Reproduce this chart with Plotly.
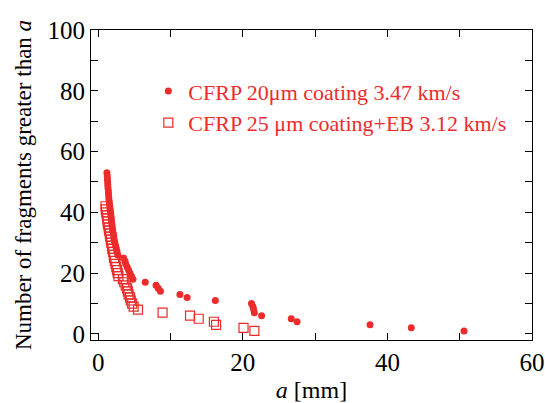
import plotly.graph_objects as go

# Series 1: CFRP 20um coating 3.47 km/s (filled circles), cumulative counts
a_circ = [50.6, 43.3, 37.6, 27.5, 26.7, 22.6, 21.6, 21.5, 21.4, 21.2,
          16.2, 12.3, 11.3, 8.6, 8.3, 8.0, 6.5, 4.8, 4.6, 4.4,
          4.2, 4.0, 3.8, 3.7, 3.5, 2.7, 2.6, 2.5, 2.4, 2.3,
          2.2, 2.15, 2.1, 2.0, 1.95, 1.9, 1.85, 1.8, 1.75, 1.7,
          1.65, 1.6, 1.55, 1.5, 1.45, 1.42, 1.4, 1.35, 1.32, 1.3,
          1.27, 1.25, 1.2]
n_circ = list(range(1, len(a_circ) + 1))

# Series 2: CFRP 25 um coating+EB 3.12 km/s (open squares)
a_sq = [21.6, 20.1, 16.3, 16.0, 13.9, 12.7, 8.9, 5.5, 4.9, 4.7,
        4.5, 4.4, 4.2, 4.1, 4.0, 3.8, 3.6, 3.4, 2.8, 2.7,
        2.6, 2.5, 2.4, 2.3, 2.2, 2.15, 2.05, 1.95, 1.9, 1.8,
        1.75, 1.65, 1.6, 1.5, 1.45, 1.35, 1.3, 1.25, 1.2, 1.1,
        1.05, 1.0]
n_sq = list(range(1, len(a_sq) + 1))

x_ticks = [0, 10, 20, 30, 40, 50, 60]
x_labels = ['0', '', '20', '', '40', '', '60']
y_ticks = [0, 10, 20, 30, 40, 50, 60, 70, 80, 90, 100]
y_labels = ['0', '', '20', '', '40', '', '60', '', '80', '', '100']

red = '#EE2B2B'
font = 'Liberation Serif, Times New Roman, serif'

fig = go.Figure()
fig.add_trace(go.Scatter(
    x=a_circ, y=n_circ, mode='markers', name='CFRP 20μm coating 3.47 km/s',
    marker=dict(symbol='circle', size=7, color=red, line=dict(width=0))))
fig.add_trace(go.Scatter(
    x=a_sq, y=n_sq, mode='markers', name='CFRP 25 μm coating+EB 3.12 km/s',
    marker=dict(symbol='square-open', size=9, color=red, line=dict(width=1.2, color=red))))

axis_common = dict(
    showline=True, linecolor='black', linewidth=1, mirror='ticks',
    ticks='inside', ticklen=7, tickwidth=1, tickcolor='black',
    showgrid=False, zeroline=False, automargin=False,
    tickfont=dict(family=font, size=25, color='black'))

fig.update_layout(
    width=545, height=403,
    margin=dict(l=91, r=13, t=30, b=63),
    paper_bgcolor='white', plot_bgcolor='white',
    font=dict(family=font, size=22, color='black'),
    xaxis=dict(range=[-1, 60], tickvals=x_ticks, ticktext=x_labels,
               title=dict(text='<i>a</i> [mm]', font=dict(family=font, size=24), standoff=28),
               **axis_common),
    yaxis=dict(range=[-2, 100], tickvals=y_ticks, ticktext=y_labels,
               title=dict(text='Number of fragments greater than <i>a</i>', font=dict(family=font, size=23), standoff=9),
               **axis_common),
    legend=dict(x=0.13, y=0.87, xanchor='left', yanchor='top',
                bgcolor='rgba(0,0,0,0)', font=dict(family=font, size=22, color=red),
                itemwidth=30, tracegroupgap=0),
    showlegend=True,
)

fig.write_html('out.html', config={'displayModeBar': False},
               post_script="document.body.style.margin='0';document.body.style.overflow='hidden';")
